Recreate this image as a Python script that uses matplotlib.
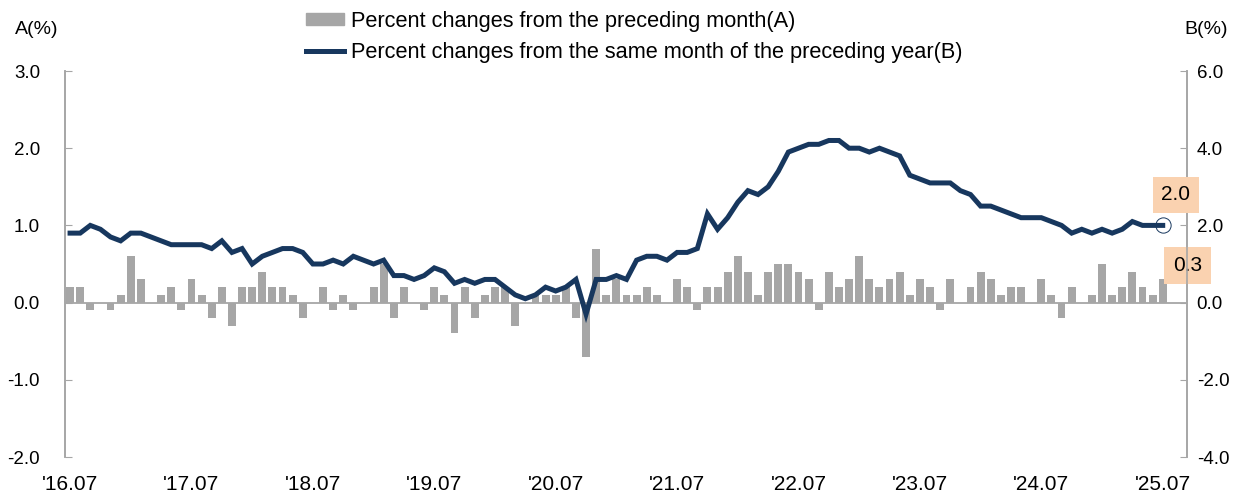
import numpy as np
import matplotlib
matplotlib.use('Agg')
import matplotlib.pyplot as plt
from matplotlib.patches import Patch
from matplotlib.lines import Line2D

# monthly data '16.07 ~ '25.07
mom = [0.2, 0.2, -0.1, 0.0, -0.1, 0.1, 0.6, 0.3, 0.0, 0.1,
       0.2, -0.1, 0.3, 0.1, -0.2, 0.2, -0.3, 0.2, 0.2, 0.4,
       0.2, 0.2, 0.1, -0.2, 0.0, 0.2, -0.1, 0.1, -0.1, 0.0,
       0.2, 0.5, -0.2, 0.2, 0.0, -0.1, 0.2, 0.1, -0.4, 0.2,
       -0.2, 0.1, 0.2, 0.2, -0.3, 0.0, 0.1, 0.1, 0.1, 0.2,
       -0.2, -0.7, 0.7, 0.1, 0.3, 0.1, 0.1, 0.2, 0.1, 0.0,
       0.3, 0.2, -0.1, 0.2, 0.2, 0.4, 0.6, 0.4, 0.1, 0.4,
       0.5, 0.5, 0.4, 0.3, -0.1, 0.4, 0.2, 0.3, 0.6, 0.3,
       0.2, 0.3, 0.4, 0.1, 0.3, 0.2, -0.1, 0.3, 0.0, 0.2,
       0.4, 0.3, 0.1, 0.2, 0.2, 0.0, 0.3, 0.1, -0.2, 0.2,
       0.0, 0.1, 0.5, 0.1, 0.2, 0.4, 0.2, 0.1, 0.3]
yoy = [1.8, 1.8, 2.0, 1.9, 1.7, 1.6, 1.8, 1.8, 1.7, 1.6,
       1.5, 1.5, 1.5, 1.5, 1.4, 1.6, 1.3, 1.4, 1.0, 1.2,
       1.3, 1.4, 1.4, 1.3, 1.0, 1.0, 1.1, 1.0, 1.2, 1.1,
       1.0, 1.1, 0.7, 0.7, 0.6, 0.7, 0.9, 0.8, 0.5, 0.6,
       0.5, 0.6, 0.6, 0.4, 0.2, 0.1, 0.2, 0.4, 0.3, 0.4,
       0.6, -0.3, 0.6, 0.6, 0.7, 0.6, 1.1, 1.2, 1.2, 1.1,
       1.3, 1.3, 1.4, 2.3, 1.9, 2.2, 2.6, 2.9, 2.8, 3.0,
       3.4, 3.9, 4.0, 4.1, 4.1, 4.2, 4.2, 4.0, 4.0, 3.9,
       4.0, 3.9, 3.8, 3.3, 3.2, 3.1, 3.1, 3.1, 2.9, 2.8,
       2.5, 2.5, 2.4, 2.3, 2.2, 2.2, 2.2, 2.1, 2.0, 1.8,
       1.9, 1.8, 1.9, 1.8, 1.9, 2.1, 2.0, 2.0, 2.0]
tick_labels = ["'16.07", "'17.07", "'18.07", "'19.07", "'20.07",
               "'21.07", "'22.07", "'23.07", "'24.07", "'25.07"]
leg_a = 'Percent changes from the preceding month(A)'
leg_b = 'Percent changes from the same month of the preceding year(B)'

bar_color = '#A6A6A6'
line_color = '#17375E'
axis_gray = '#A6A6A6'
box_color = '#FAD2B0'
font = ['Liberation Sans', 'DejaVu Sans']

x = np.arange(len(mom))

fig = plt.figure(figsize=(12.39, 4.99), dpi=100)
ax = fig.add_axes([65 / 1239, 1 - 457 / 499, 1122 / 1239, 386 / 499])
ax2 = ax.twinx()

ax.bar(x, mom, width=0.78, color=bar_color, zorder=2)
ax.axhline(0, color=axis_gray, lw=1.3, zorder=1)
ax.set_ylim(-2, 3)
ax.set_xlim(-0.5, 110.4)
ax.set_yticks([-2, -1, 0, 1, 2, 3])
ax.set_yticklabels(['%.1f' % v for v in [-2, -1, 0, 1, 2, 3]])
ax.set_xticks(x[::12])
ax.set_xticklabels(tick_labels, family=font, fontsize=15)
ax.tick_params(axis='x', length=0, pad=13)
ax.tick_params(axis='y', direction='in', length=5, color=axis_gray, pad=18,
               labelsize=13.5)
for lbl in ax.get_yticklabels():
    lbl.set_family(font)

ax2.plot(x, yoy, color=line_color, lw=3.6, solid_joinstyle='miter', zorder=3)
ax2.plot(x[-1], yoy[-1], 'o', ms=11, mfc='none', mec=line_color, mew=0.7)
ax2.set_ylim(-4, 6)
ax2.set_yticks([-4, -2, 0, 2, 4, 6])
ax2.set_yticklabels(['%.1f' % v for v in [-4, -2, 0, 2, 4, 6]])
ax2.tick_params(axis='y', direction='in', length=5, color=axis_gray, pad=7,
                labelsize=13.5)
for lbl in ax2.get_yticklabels():
    lbl.set_family(font)

for a in (ax, ax2):
    a.spines['top'].set_visible(False)
    a.spines['bottom'].set_visible(False)
    a.spines['left'].set_color(axis_gray)
    a.spines['right'].set_color(axis_gray)
    a.spines['left'].set_linewidth(1.2)
    a.spines['right'].set_linewidth(1.2)

# value labels for latest month
ax2.annotate('%.1f' % yoy[-1], (x[-1], yoy[-1]), xytext=(9.5, 22),
             textcoords='offset points', ha='center', va='center',
             fontsize=15, family=font,
             bbox=dict(boxstyle='square,pad=0.42', fc=box_color, ec='none'))
ax.annotate('%.1f' % mom[-1], (x[-1], mom[-1]), xytext=(18, 10),
            textcoords='offset points', ha='center', va='center',
            fontsize=15, family=font,
            bbox=dict(boxstyle='square,pad=0.42', fc=box_color, ec='none'))

fig.text(15 / 1239, 1 - 29 / 499, 'A(%)', family=font, fontsize=14,
         va='center', ha='left')
fig.text(1228 / 1239, 1 - 29 / 499, 'B(%)', family=font, fontsize=14,
         va='center', ha='right')

handles = [Patch(color=bar_color), Line2D([0], [0], color=line_color, lw=3.6)]
fig.legend(handles, [leg_a, leg_b], loc='upper left',
           bbox_to_anchor=(306 / 1239, 1 - 11 / 499), frameon=False,
           prop={'family': font, 'size': 15.7}, handlelength=1.75,
           handleheight=0.5, handletextpad=0.3, labelspacing=0.45,
           borderpad=0, borderaxespad=0)

fig.savefig('out.png', dpi=100)
